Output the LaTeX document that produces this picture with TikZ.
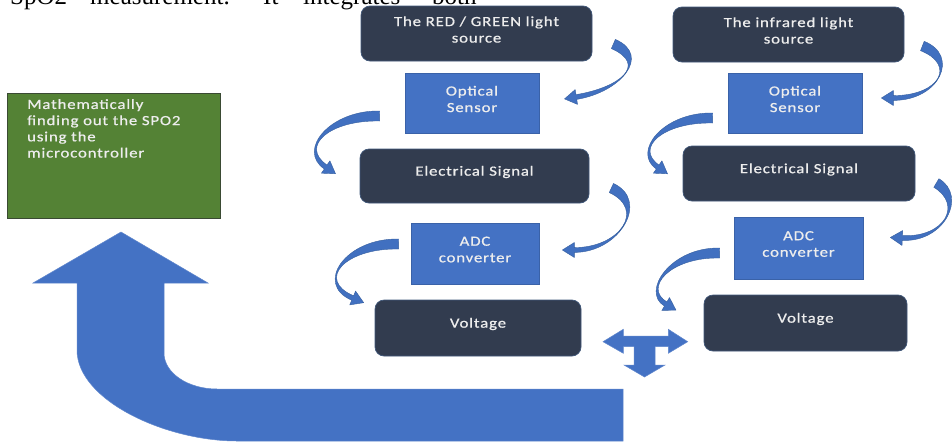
\documentclass[tikz,border=0pt]{standalone}
\usepackage{fontspec}
\setmainfont{Liberation Serif}
\newfontfamily\boxfont[FakeStretch=1.2,LetterSpace=6,FakeBold=0.8]{Carlito}
\usetikzlibrary{calc}
\definecolor{darkfill}{HTML}{323C4F}
\definecolor{darkedge}{HTML}{41587A}
\definecolor{bluefill}{HTML}{4472C4}
\definecolor{blueedge}{HTML}{3A62A8}
\definecolor{greenfill}{HTML}{548235}
\definecolor{greenedge}{HTML}{3A4A33}
\definecolor{boxtext}{HTML}{EDEDED}
\definecolor{arrfill}{HTML}{4170C0}
\definecolor{arredge}{HTML}{365F9F}
\newcommand\up[1]{\raisebox{4pt}[\height][\depth]{#1}}
\newcommand\carr[4]{%
  \coordinate (t) at #1; \coordinate (c1) at #2;
  \coordinate (c2) at #3; \coordinate (p) at #4;
  \coordinate (ta) at ($(t)!5pt!90:(c1)$);
  \coordinate (tb) at ($(t)!5pt!-90:(c1)$);
  \coordinate (pa) at ($(p)!2.4pt!-90:(c2)$);
  \coordinate (pb) at ($(p)!2.4pt!90:(c2)$);
  \coordinate (c1a) at ($(c1)+(ta)-(t)$);
  \coordinate (c1b) at ($(c1)+(tb)-(t)$);
  \coordinate (c2a) at ($(c2)+(pa)-(p)$);
  \coordinate (c2b) at ($(c2)+(pb)-(p)$);
  \coordinate (ha) at ($(p)!7.5pt!-90:(c2)$);
  \coordinate (hb) at ($(p)!7.5pt!90:(c2)$);
  \coordinate (tip) at ($(p)!-12pt!(c2)$);
  \filldraw[curvearrow] (ta) .. controls (c1a) and (c2a) .. (pa) -- (ha) -- (tip)
     -- (hb) -- (pb) .. controls (c2b) and (c1b) .. (tb) -- cycle;
}
\tikzset{
  darkbox/.style={draw=darkedge, fill=darkfill, line width=0.7pt, rounded corners=9pt,
    text=boxtext, font=\boxfont\fontsize{14}{16.5}\selectfont, align=center, inner sep=0pt},
  bluebox/.style={draw=blueedge, fill=bluefill, line width=0.7pt,
    text=boxtext, font=\boxfont\fontsize{14}{16.5}\selectfont, align=center, inner sep=0pt},
  greenbox/.style={draw=greenedge, fill=greenfill, line width=0.8pt, inner sep=0pt},
  greentext/.style={text=boxtext, font=\boxfont\fontsize{14}{16.2}\selectfont, align=left, inner sep=0pt, anchor=north west},
  curvearrow/.style={fill=arrfill, draw=arredge, line width=0.4pt, line join=round},
  bigarrow/.style={fill=bluefill, draw=bluefill!85!white, line width=0.5pt},
  toptext/.style={font=\fontsize{25}{28}\selectfont, anchor=base west, inner sep=0pt}
}
\begin{document}
\begin{tikzpicture}[x=1pt,y=-1pt]
\useasboundingbox (0,0) rectangle (952,442);
\fill[white] (0,0) rectangle (952,442);

% line of page text, cut at the top edge as in the reference
\node[toptext] (w1) at (10,4) {SpO2};
\node[toptext] (w2) at (90,4) {measurement.};
\node[toptext] (w3) at (263,4) {It};
\node[toptext] (w4) at (303,4) {integrates};
\node[toptext] (w5) at (432,4) {both};

% big U-turn arrow and T-arrow
\filldraw[bigarrow] (623,441) -- (623,389) -- (217,389)
  .. controls (187.7,389) and (164,372.9) .. (164,353) -- (164,283) -- (208,283)
  -- (121,232) -- (33,283) -- (77,283) -- (77,350)
  .. controls (77,400.2) and (165.3,441) .. (237,441) -- cycle;
\filldraw[bigarrow] (603,341.7) -- (623.3,329.3) -- (623.3,336) -- (668.3,336)
  -- (668.3,329.3) -- (687.7,341.7) -- (668.3,353.3) -- (668.3,346.7) -- (655,346.7)
  -- (655,365) -- (665,365) -- (644.5,377) -- (624,365) -- (634,365) -- (634,346.7)
  -- (623.3,346.7) -- (623.3,353.3) -- cycle;

% green box
\node[greenbox, minimum width=213pt, minimum height=125pt] (math) at (113.5,155.5) {};
\node[greentext] (mtext) at (27,99) {Mathematically\\finding out the SPO2\\using the\\microcontroller};

% left column
\node[darkbox, minimum width=231pt, minimum height=55pt] (rg) at (476.5,33.5)
  {\up{The RED / GREEN light}\\\up{source}};
\node[bluebox, minimum width=134pt, minimum height=60pt] (os1) at (472,103)
  {\up{Optical}\\\up{Sensor}};
\node[darkbox, minimum width=229pt, minimum height=54pt] (es1) at (474.5,176)
  {\up{Electrical Signal}};
\node[bluebox, minimum width=128pt, minimum height=61pt] (adc1) at (475,253.5)
  {\up{ADC}\\\up{converter}};
\node[darkbox, minimum width=206pt, minimum height=56pt] (v1) at (478,328)
  {\up{Voltage}};

% right column
\node[darkbox, minimum width=231pt, minimum height=55pt] (ir) at (788.5,34.5)
  {\up{The infrared light}\\\up{source}};
\node[bluebox, minimum width=134pt, minimum height=60pt] (os2) at (795,103)
  {\up{Optical}\\\up{Sensor}};
\node[darkbox, minimum width=232pt, minimum height=55pt] (es2) at (799,173.5)
  {\up{Electrical Signal}};
\node[bluebox, minimum width=129pt, minimum height=62pt] (adc2) at (798.5,248)
  {\up{ADC}\\\up{converter}};
\node[darkbox, minimum width=203pt, minimum height=56pt] (v2) at (805.5,323)
  {\up{Voltage}};

% curved connectors
\carr{([shift={(21,10.5)}]rg.east)}{(650,60)}{(620,90)}{([shift={(37,-6)}]os1.east)}
\carr{([shift={(-25,13)}]os1.west)}{(330,115)}{(298,148)}{([shift={(-34,-9)}]es1.west)}
\carr{([shift={(22,12)}]es1.east)}{(648,205)}{(620,250)}{([shift={(35,-3.5)}]adc1.east)}
\carr{([shift={(-12,-9.5)}]adc1.west)}{(345,243)}{(315,282)}{([shift={(-22,-30)}]v1.west)}
\carr{([shift={(18,11.5)}]ir.east)}{(958,60)}{(940,98)}{([shift={(31,-5)}]os2.east)}
\carr{([shift={(-15,15)}]os2.west)}{(663,117)}{(633,150)}{([shift={(-25,-6.5)}]es2.west)}
\carr{([shift={(21,9.5)}]es2.east)}{(965,200)}{(945,240)}{([shift={(39,-10)}]adc2.east)}
\carr{([shift={(-14,5)}]adc2.west)}{(670,252)}{(642,290)}{([shift={(-38,-19)}]v2.west)}
\end{tikzpicture}
\end{document}
